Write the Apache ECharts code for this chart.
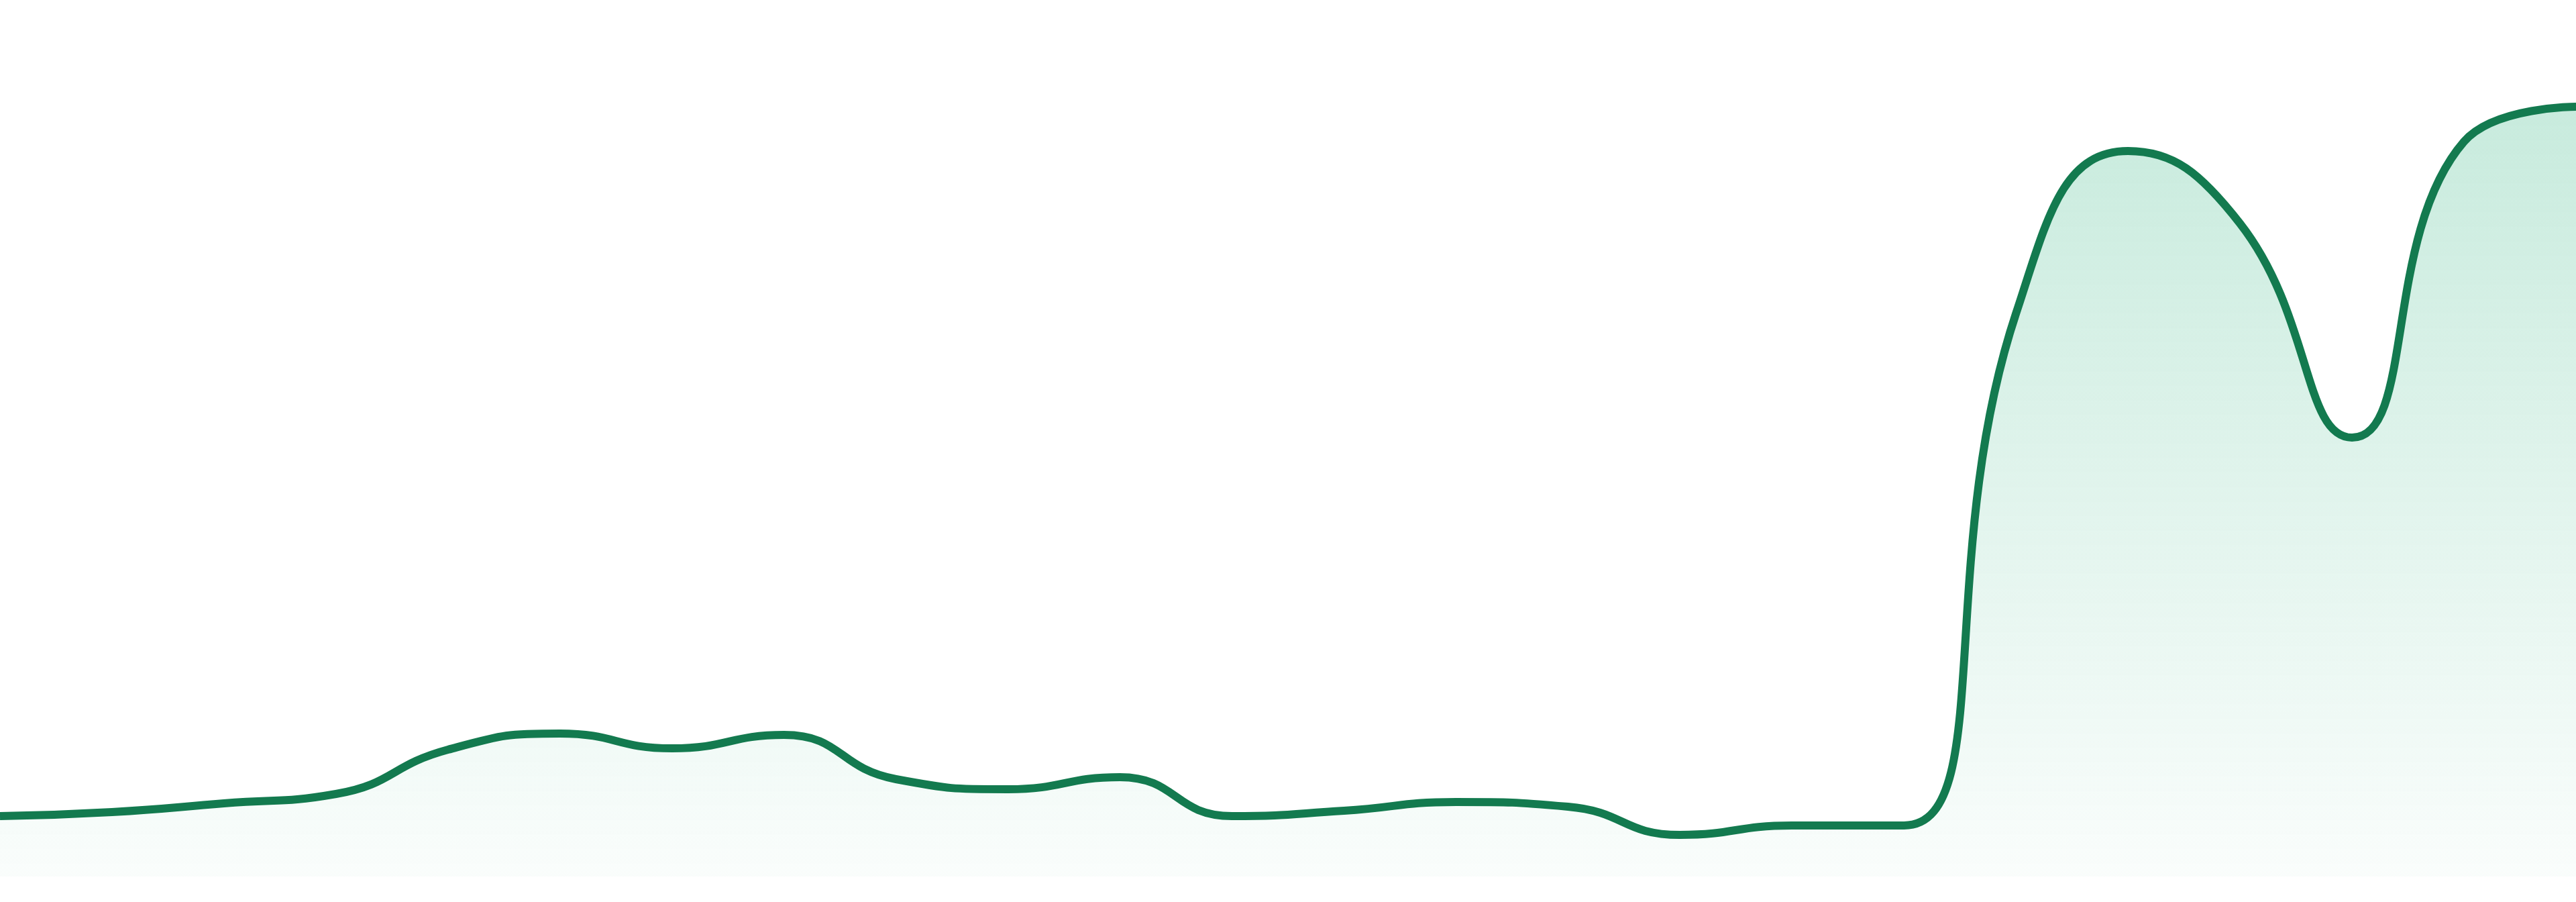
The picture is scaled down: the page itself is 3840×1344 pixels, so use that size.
<!DOCTYPE html>
<html>
<head>
<meta charset="utf-8">
<title>Trend</title>
<script src="https://cdn.jsdelivr.net/npm/echarts@6/dist/echarts.min.js"></script>
<style>
  html, body { margin: 0; padding: 0; background: #fff; }
  #chart { width: 3840px; height: 1344px; }
</style>
</head>
<body>
<div id="chart"></div>
<script>
const periods = [
  'W01', 'W02', 'W03', 'W04', 'W05', 'W06', 'W07', 'W08',
  'W09', 'W10', 'W11', 'W12', 'W13', 'W14', 'W15', 'W16',
  'W17', 'W18', 'W19', 'W20', 'W21', 'W22', 'W23', 'W24'
];
const values = [
  90, 96, 109, 123, 189, 213, 191, 211,
  145, 130, 148, 90, 98, 111, 104, 62,
  76, 76, 839, 1081, 973, 654, 1095, 1147
];
const yMin = 0;
const yMax = 1300;

const lineColor = '#137a4f';

const chart = echarts.init(document.getElementById('chart'), null, { renderer: 'canvas' });

chart.setOption({
  animation: false,
  grid: { left: 0, right: 0, top: 6, bottom: 38 },
  xAxis: {
    type: 'category',
    data: periods,
    boundaryGap: false,
    show: false,
  },
  yAxis: {
    type: 'value',
    min: yMin,
    max: yMax,
    show: false,
    splitLine: { show: false },
  },
  series: [{
    name: 'Trend',
    type: 'line',
    data: values,
    smooth: true,
    symbol: 'none',
    lineStyle: { color: lineColor, width: 12 },
    areaStyle: {
      color: new echarts.graphic.LinearGradient(0, 0, 0, 1, [
        { offset: 0, color: 'rgba(16, 168, 108, 0.33)' },
        { offset: 1, color: 'rgba(16, 168, 108, 0.03)' },
      ]),
    },
  }],
});

window.addEventListener('resize', () => chart.resize());
</script>
</body>
</html>
